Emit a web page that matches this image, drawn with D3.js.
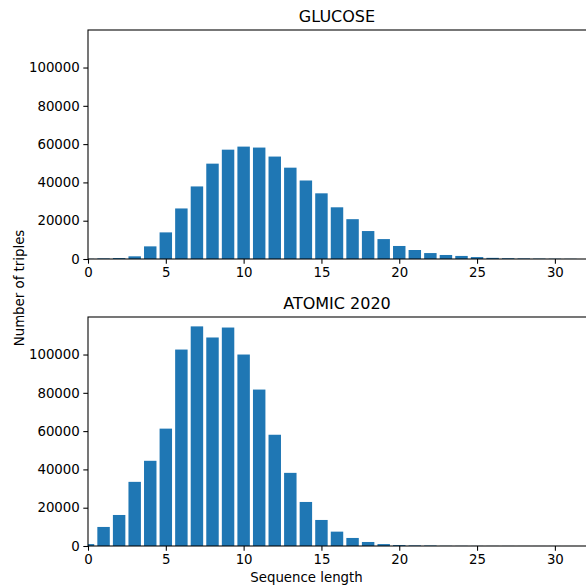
<!DOCTYPE html>
<html>
<head>
<meta charset="utf-8">
<script src="https://cdn.jsdelivr.net/npm/d3@7"></script>
<style>
  body { margin: 0; background: #fff; }
  text { font-family: 'DejaVu Sans', sans-serif; fill: #000; }
</style>
</head>
<body>
<svg id="chart" width="586" height="587"></svg>
<script>
const seqLengths = d3.range(0, 32)
const glucose = [100, 300, 500, 1400, 6600, 13900, 26400, 37900, 49800, 57100, 58700, 58200,
  53500, 47700, 41000, 34300, 27000, 20800, 14600, 10400, 6800, 4700, 3100, 2100, 1600, 1000,
  600, 400, 300, 200, 150, 100]
const atomic = [1000, 9950, 16200, 33500, 44500, 61300, 102600, 114700, 108900, 114100, 100000,
  81700, 58100, 38200, 23000, 13600, 7500, 4200, 2100, 1000, 500, 300, 250, 100, 80, 60, 50, 40,
  30, 20, 20, 10]
const xTicks = [0, 5, 10, 15, 20, 25, 30]
const yTicks = [0, 20000, 40000, 60000, 80000, 100000]
const panels = [
  { title: 'GLUCOSE', values: glucose, top: 30 },
  { title: 'ATOMIC 2020', values: atomic, top: 317 }
]

const svg = d3.select('#chart')
const left = 88, right = 586, plotH = 229
const x = d3.scaleLinear().domain([0, 32]).range([left, right])

function drawPanel(p, i) {
  const y = d3.scaleLinear().domain([0, 119600]).range([p.top + plotH, p.top])
  const g = svg.append('g')

  g.append('clipPath').attr('id', 'clip' + i)
    .append('rect')
    .attr('x', left).attr('y', p.top)
    .attr('width', right - left).attr('height', plotH)

  g.append('g')
    .attr('clip-path', `url(#clip${i})`)
    .selectAll('rect')
    .data(seqLengths)
    .join('rect')
    .attr('x', d => x(d - 0.4))
    .attr('width', x(0.8) - x(0))
    .attr('y', d => y(p.values[d]))
    .attr('height', d => y(0) - y(p.values[d]))
    .style('fill', '#1f77b4')

  const xAxis = g.append('g')
    .attr('transform', `translate(0, ${p.top + plotH})`)
    .call(d3.axisBottom(x).tickValues(xTicks).tickSize(4.7).tickPadding(3.5))
  const yAxis = g.append('g')
    .attr('transform', `translate(${left}, 0)`)
    .call(d3.axisLeft(y).tickValues(yTicks).tickSize(4.7).tickPadding(3.5).tickFormat(d3.format('d')))

  for (const ax of [xAxis, yAxis]) {
    ax.select('.domain').remove()
    ax.selectAll('line').attr('stroke', '#000').attr('stroke-width', 1.07)
    ax.selectAll('text')
      .style('font-size', '13.33px')
      .attr('font-family', null)
  }

  // spines (right one sits just past the picture edge, as in the cropped original)
  g.append('rect')
    .attr('x', left).attr('y', p.top)
    .attr('width', right - left + 3).attr('height', plotH)
    .style('fill', 'none').style('stroke', '#000').style('stroke-width', 1.07)

  g.append('text')
    .attr('x', (left + right) / 2)
    .attr('y', p.top - 8)
    .attr('text-anchor', 'middle')
    .style('font-size', '16px')
    .text(p.title)
}

panels.forEach(drawPanel)

svg.append('text')
  .attr('x', 306.5).attr('y', 582)
  .attr('text-anchor', 'middle')
  .style('font-size', '13.33px')
  .text('Sequence length')

svg.append('text')
  .attr('transform', 'translate(24, 288) rotate(-90)')
  .attr('text-anchor', 'middle')
  .style('font-size', '13.33px')
  .text('Number of triples')
</script>
</body>
</html>
